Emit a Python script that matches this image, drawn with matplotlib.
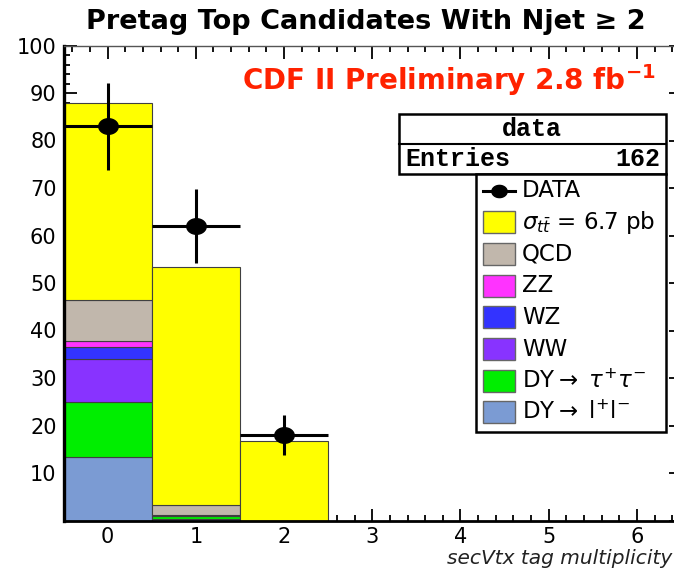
import matplotlib
matplotlib.use("Agg")
import matplotlib.pyplot as plt
import numpy as np
from matplotlib.patches import Rectangle
from matplotlib.lines import Line2D
from matplotlib.path import Path

# bins (secVtx tag multiplicity)
bins = [0, 1, 2]

# stacked MC components, bottom to top
dy_ll = [13.4, 0.3, 0.0]
dy_tautau = [11.5, 0.6, 0.0]
ww = [9.0, 0.2, 0.0]
wz = [2.6, 0.05, 0.0]
zz = [1.2, 0.02, 0.0]
qcd = [8.8, 2.0, 0.0]
ttbar = [41.5, 50.2, 16.7]

# data
data = [83, 62, 18]
entries = 162

components = [dy_ll, dy_tautau, ww, wz, zz, qcd, ttbar]
colors = ["#7b9bd3", "#00ee00", "#8833ff", "#3333ff", "#ff33ff", "#c1b7ac", "#ffff00"]
legend_labels = [r"$\sigma_{t\bar{t}}$ = 6.7 pb", "QCD", "ZZ", "WZ", "WW",
                 r"DY$\rightarrow$ $\tau^{+}\tau^{-}$", r"DY$\rightarrow$ $\mathrm{l}^{+}\mathrm{l}^{-}$"]
legend_colors = ["#ffff00", "#c1b7ac", "#ff33ff", "#3333ff", "#8833ff", "#00ee00", "#7b9bd3"]

W, H = 674, 572
fig = plt.figure(figsize=(W / 100, H / 100), dpi=100)
plt.rcParams["font.family"] = ["DejaVu Sans"]


def fx(px):
    return px / W


def fy(py):
    return 1 - py / H


ax = fig.add_axes([fx(63.5), fy(520.5), (681 - 63.5) / W, 475 / H])

# stacked histogram
bottom = np.zeros(len(bins))
for vals, col in zip(components, colors):
    vals = np.array(vals)
    ax.bar(bins, vals, width=1.0, bottom=bottom, color=col,
           edgecolor="#404040", linewidth=0.8, zorder=2)
    bottom += vals

# data points with sqrt(N) errors and bin-width x errors
ell = np.linspace(0, 2 * np.pi, 40)
ell_marker = Path(np.column_stack([1.25 * np.cos(ell), np.sin(ell)]), closed=True)
ax.errorbar(bins, data, yerr=np.sqrt(data), xerr=0.5, fmt="none",
            ecolor="black", elinewidth=2.2, capsize=0, zorder=4)
ax.plot(bins, data, linestyle="none", marker=ell_marker, markersize=14,
        color="black", zorder=5)

ax.set_xlim(-0.5, 6.5)
ax.set_ylim(0, 100)
ax.set_xticks(range(0, 7))
ax.set_xticks(np.arange(-0.4, 6.5, 0.2), minor=True)
ax.set_yticks(range(0, 101, 10))
ax.set_yticklabels([""] + [str(v) for v in range(10, 101, 10)])
ax.set_yticks(range(0, 101, 2), minor=True)
ax.tick_params(which="both", direction="in", top=True, right=True,
               labelsize=15, width=1.3)
ax.tick_params(which="major", length=9)
ax.tick_params(which="minor", length=4.5)
ax.tick_params(axis="y", pad=5)
ax.tick_params(axis="x", pad=5)
ax.spines["left"].set_linewidth(2.4)
ax.spines["bottom"].set_linewidth(2.0)
ax.spines["top"].set_linewidth(1.0)
ax.spines["top"].set_color("#555555")

# titles and labels
fig.text(fx(366), fy(22), "Pretag Top Candidates With Njet \u2265 2",
         ha="center", va="center", fontsize=19.5, fontweight="bold")
fig.text(fx(449), fy(80), r"CDF II Preliminary 2.8 fb$^{\mathbf{-1}}$",
         ha="center", va="center", fontsize=20, fontweight="bold", color="#ff2200")
fig.text(fx(672), fy(558), "secVtx tag multiplicity", ha="right", va="center",
         fontsize=14.5, style="italic", color="#222222")

# stats box
fig.add_artist(Rectangle((fx(399), fy(174)), (666 - 399) / W, 60 / H,
                         transform=fig.transFigure, facecolor="white",
                         edgecolor="black", linewidth=1.8, zorder=10))
fig.add_artist(Line2D([fx(399), fx(666)], [fy(143.5), fy(143.5)],
                      transform=fig.transFigure, color="black", linewidth=1.5, zorder=11))
mono = ["Liberation Mono", "DejaVu Sans Mono"]
fig.text(fx(532), fy(129), "data", ha="center", va="center", fontsize=18,
         family=mono, fontweight="bold", zorder=12)
fig.text(fx(405), fy(159), "Entries", ha="left", va="center", fontsize=18,
         family=mono, fontweight="bold", zorder=12)
fig.text(fx(660), fy(159), str(entries), ha="right", va="center", fontsize=18,
         family=mono, fontweight="bold", zorder=12)

# legend box
fig.add_artist(Rectangle((fx(476), fy(432)), (666 - 476) / W, (432 - 174) / H,
                         transform=fig.transFigure, facecolor="white",
                         edgecolor="black", linewidth=1.8, zorder=10))
y0 = 190.5
step = 31.7
fig.add_artist(Line2D([fx(483), fx(515)], [fy(y0), fy(y0)], transform=fig.transFigure,
                      color="black", linewidth=2.2, zorder=12))
fig.add_artist(Line2D([fx(499)], [fy(y0)], transform=fig.transFigure, color="black",
                      marker=ell_marker, markersize=11, linestyle="none", zorder=12))
fig.text(fx(522), fy(y0), "DATA", ha="left", va="center", fontsize=16.5, zorder=12)
for i, (lab, col) in enumerate(zip(legend_labels, legend_colors)):
    yc = y0 + step * (i + 1)
    fig.add_artist(Rectangle((fx(483), fy(yc + 11)), 32 / W, 22 / H,
                             transform=fig.transFigure, facecolor=col,
                             edgecolor="#666666", linewidth=1.0, zorder=12))
    fig.text(fx(522), fy(yc), lab, ha="left", va="center", fontsize=16.5, zorder=12)

fig.savefig("out.png", dpi=100)
